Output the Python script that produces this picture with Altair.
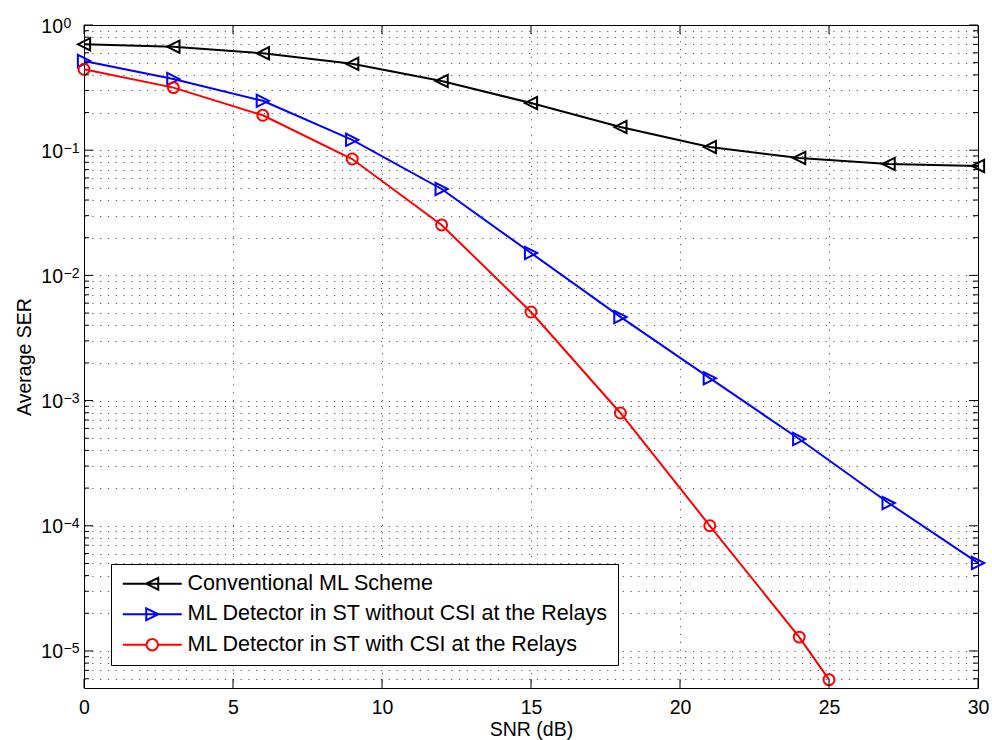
import altair as alt
import pandas as pd

# ---------------- data ----------------
snr = [0, 3, 6, 9, 12, 15, 18, 21, 24, 27, 30]
ser_conv = [0.701, 0.671, 0.594, 0.49, 0.357, 0.238, 0.153, 0.106, 0.0867, 0.0776, 0.0748]
ser_no_csi = [0.516, 0.37, 0.248, 0.121, 0.049, 0.0151, 0.00466, 0.00151, 0.000493, 0.000152, 0.0000505]
snr_csi = [0, 3, 6, 9, 12, 15, 18, 21, 24, 25]
ser_csi = [0.443, 0.316, 0.19, 0.085, 0.0253, 0.0051, 0.000796, 0.0001, 0.0000129, 0.0000059]

series_names = [
    "Conventional ML Scheme",
    "ML Detector in ST without CSI at the Relays",
    "ML Detector in ST with CSI at the Relays",
]
series_colors = ["#000000", "#0000ff", "#ff0000"]

x_ticks = [0, 5, 10, 15, 20, 25, 30]
y_decades = [1e-5, 1e-4, 1e-3, 1e-2, 1e-1, 1.0]
y_exponents = ["\u22125", "\u22124", "\u22123", "\u22122", "\u22121", "0"]
y_minor = [6e-6, 7e-6, 8e-6, 9e-6,
           2e-5, 3e-5, 4e-5, 5e-5, 6e-5, 7e-5, 8e-5, 9e-5,
           2e-4, 3e-4, 4e-4, 5e-4, 6e-4, 7e-4, 8e-4, 9e-4,
           2e-3, 3e-3, 4e-3, 5e-3, 6e-3, 7e-3, 8e-3, 9e-3,
           2e-2, 3e-2, 4e-2, 5e-2, 6e-2, 7e-2, 8e-2, 9e-2,
           0.2, 0.3, 0.4, 0.5, 0.6, 0.7, 0.8, 0.9]

# ---------------- tables ----------------
rows = []
for x, v in zip(snr, ser_conv):
    rows.append({"snr": x, "ser": v, "series": series_names[0]})
for x, v in zip(snr, ser_no_csi):
    rows.append({"snr": x, "ser": v, "series": series_names[1]})
for x, v in zip(snr_csi, ser_csi):
    rows.append({"snr": x, "ser": v, "series": series_names[2]})
df = pd.DataFrame(rows)
df_xt = pd.DataFrame({"t": x_ticks})
df_ymaj = pd.DataFrame({"v": y_decades, "e": y_exponents})
df_ymin = pd.DataFrame({"v": y_minor})

# ---------------- styling ----------------
FONT = "Liberation Sans, Arial, Helvetica, sans-serif"
W, H = 894, 663
GRID_DASH = [1.2, 6.6]

xs = alt.Scale(domain=[0, 30], nice=False, zero=False)
ys = alt.Scale(type="log", domain=[5.06e-6, 1.0], nice=False)

x_axis = alt.Axis(
    values=x_ticks, title="SNR (dB)", grid=True, gridDash=GRID_DASH,
    gridColor="#000000", gridOpacity=0.65, gridWidth=1,
    ticks=False, tickSize=0, domain=False,
    labelFont=FONT, labelFontSize=19.5, labelColor="black",
    labelPadding=25, labelBaseline="alphabetic", labelFlush=False,
    titleFont=FONT, titleFontSize=19.5, titleFontWeight="normal",
    titleColor="black", titleY=47, titleBaseline="alphabetic",
)
y_axis = alt.Axis(
    values=y_decades + y_minor, labels=False, title="Average SER",
    grid=True, gridDash=GRID_DASH, gridColor="#000000", gridOpacity=0.65,
    gridWidth=1, ticks=False, tickSize=0, domain=False,
    titleFont=FONT, titleFontSize=19.5, titleFontWeight="normal",
    titleColor="black", titleX=-54, titleY=H / 2, titleBaseline="alphabetic",
    titleAngle=270,
)

# marker paths
TRI_LEFT = "M-1,0L1,-1L1,1Z"
TRI_RIGHT = "M1,0L-1,-1L-1,1Z"

# legend sample paths (line + marker), in symbol units (5 px per unit at size 100)
k, L0, L1, m, r = 4.3, -1.6, 10.2, 1.2, 1.15
c = 0.5523 * r
leg_black = f"M{L0},0H{L1}M{k-m},0L{k+m},{-m}L{k+m},{m}Z"
leg_blue = f"M{L0},0H{L1}M{k+m},0L{k-m},{-m}L{k-m},{m}Z"
leg_red = (f"M{L0},0H{k-r}M{k+r},0H{L1}"
           f"M{k+r},0C{k+r},{c} {k+c},{r} {k},{r}"
           f"C{k-c},{r} {k-r},{c} {k-r},0"
           f"C{k-r},{-c} {k-c},{-r} {k},{-r}"
           f"C{k+c},{-r} {k+r},{-c} {k+r},0Z")
legend_paths = [leg_black, leg_blue, leg_red]

X = alt.X("snr:Q", scale=xs, axis=x_axis)
Y = alt.Y("ser:Q", scale=ys, axis=y_axis)

layers = []
for name, color, shape, size in zip(series_names, series_colors,
                                    [TRI_LEFT, TRI_RIGHT, "circle"], [150, 150, 120]):
    sub = alt.Chart(df).transform_filter(alt.datum.series == name)
    line = sub.mark_line(color=color, strokeWidth=2).encode(x=X, y=Y)
    pts = sub.mark_point(shape=shape, size=size, color=color, filled=False,
                         strokeWidth=2, opacity=1).encode(x=X, y=Y)
    layers += [line, pts]

# inward ticks (MATLAB style) on all four sides
tick_style = dict(color="black", strokeWidth=1)
XT = alt.X("t:Q", scale=xs, axis=x_axis)
YT = alt.Y("v:Q", scale=ys, axis=y_axis)
xt_bottom = alt.Chart(df_xt).mark_rule(**tick_style).encode(
    x=XT, y=alt.value(H), y2=alt.value(H - 9))
xt_top = alt.Chart(df_xt).mark_rule(**tick_style).encode(
    x=XT, y=alt.value(0), y2=alt.value(9))
yt_lmaj = alt.Chart(df_ymaj).mark_rule(**tick_style).encode(
    y=YT, x=alt.value(0), x2=alt.value(9))
yt_lmin = alt.Chart(df_ymin).mark_rule(**tick_style).encode(
    y=YT, x=alt.value(0), x2=alt.value(5))
yt_rmaj = alt.Chart(df_ymaj).mark_rule(**tick_style).encode(
    y=YT, x=alt.value(W), x2=alt.value(W - 9))
yt_rmin = alt.Chart(df_ymin).mark_rule(**tick_style).encode(
    y=YT, x=alt.value(W), x2=alt.value(W - 5))

# y tick labels: "10" with a raised exponent
ylab_base = alt.Chart(df_ymaj).mark_text(
    text="10", align="right", baseline="alphabetic", font=FONT,
    fontSize=19.5, color="black", dy=7.5
).encode(y=YT, x=alt.value(-21))
ylab_exp = alt.Chart(df_ymaj).mark_text(
    align="left", baseline="alphabetic", font=FONT,
    fontSize=14, color="black", dy=2.5
).encode(y=YT, x=alt.value(-20.5), text="e:N")

legend_def = alt.Legend(
    title=None, orient="none", legendX=27, legendY=539, padding=9,
    strokeColor="black", fillColor="white",
    labelFont=FONT, labelFontSize=21.5, labelColor="black", labelLimit=0,
    labelOffset=46, symbolSize=100, symbolStrokeWidth=2, rowPadding=7.5,
    symbolFillColor="transparent",
)
legend_layer = alt.Chart(df).transform_filter("false").mark_point(
    filled=False, strokeWidth=2, opacity=1, size=100
).encode(
    x=X, y=Y,
    stroke=alt.Stroke("series:N", scale=alt.Scale(domain=series_names, range=series_colors),
                      legend=legend_def),
    shape=alt.Shape("series:N", scale=alt.Scale(domain=series_names, range=legend_paths),
                    legend=legend_def),
)

chart = alt.layer(
    *layers, xt_bottom, xt_top, yt_lmaj, yt_lmin, yt_rmaj, yt_rmin,
    ylab_base, ylab_exp, legend_layer
).properties(
    width=W, height=H,
    padding={"left": 84, "top": 25, "right": 14, "bottom": 52},
    autosize=alt.AutoSizeParams(type="none"),
    background="white",
).configure_view(stroke="black", strokeWidth=1)

chart.save("out.html", embed_options={"renderer": "svg", "actions": False})
